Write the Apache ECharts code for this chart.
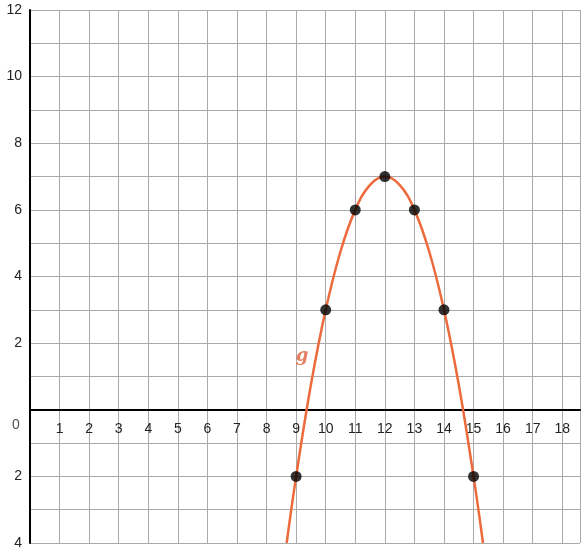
<!DOCTYPE html>
<html><head><meta charset="utf-8">
<script src="https://cdn.jsdelivr.net/npm/echarts@6/dist/echarts.min.js"></script>
<style>html,body{margin:0;padding:0;background:#fff}#c{width:582px;height:560px}</style>
</head><body><div id="c"></div>
<script>
var points = [[9,-2],[10,3],[11,6],[12,7],[13,6],[14,3],[15,-2]];
var curve = [[8.68,-4],[9,-2],[9.5,0.75],[10,3],[10.5,4.75],[11,6],[11.5,6.75],[12,7],[12.5,6.75],[13,6],[13.5,4.75],[14,3],[14.5,0.75],[15,-2],[15.32,-4]];
var curveLabel = [[9.2,1.6,'g']];
var originLabel = [[0,0,'0']];
var chart = echarts.init(document.getElementById('c'));
chart.setOption({
  animation:false,
  grid:{left:30,right:2,top:10,bottom:17},
  xAxis:{type:'value',min:0,max:18.6,interval:1,offset:-133,
    axisLine:{onZero:false,lineStyle:{color:'#000',width:2}},axisTick:{show:false},
    splitLine:{lineStyle:{color:'#aaa',width:1}},
    axisLabel:{showMaxLabel:false,color:'#222',fontSize:14,fontFamily:'Helvetica, Arial, sans-serif',margin:12,
      formatter:function(v){return v===0?'':String(v);}}},
  yAxis:{type:'value',min:-4,max:12,interval:1,
    axisLine:{onZero:false,lineStyle:{color:'#000',width:2}},axisTick:{show:false},
    splitLine:{lineStyle:{color:'#aaa',width:1}},
    axisLabel:{color:'#222',fontSize:14,fontFamily:'Helvetica, Arial, sans-serif',margin:8,
      formatter:function(v){return (v!==0&&v%2===0)?String(Math.abs(v)):'';}}},
  series:[
    {type:'line',data:curve,smooth:0.4,showSymbol:false,lineStyle:{color:'#ec6a3c',width:2.5},z:3},
    {type:'scatter',data:points,symbolSize:11,itemStyle:{color:'#000'},z:4},
    {type:'scatter',data:curveLabel,symbolSize:0,label:{show:true,formatter:function(p){return p.data[2];},
      color:'#e0603a',fontSize:18,fontWeight:'bold',fontStyle:'italic',fontFamily:'DejaVu Serif, serif'}},
    {type:'scatter',data:originLabel,symbolSize:0,label:{show:true,position:[-18,8],formatter:function(p){return p.data[2];},
      color:'#222',fontSize:14,fontFamily:'Helvetica, Arial, sans-serif'}}
  ]
});
</script></body></html>
